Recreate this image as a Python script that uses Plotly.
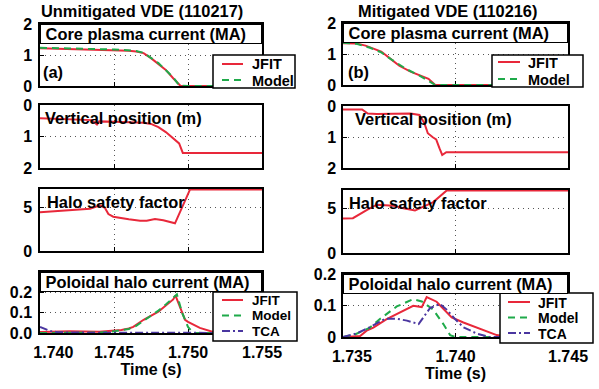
import plotly.graph_objects as go

W, H = 599, 389

# ---------------- data ----------------
# (a) Unmitigated VDE 110217
a_ip_jfit_t = [1.7400, 1.7420, 1.7440, 1.7450, 1.7460, 1.7465, 1.7470, 1.7475, 1.7480, 1.7485, 1.7490, 1.7495, 1.7500, 1.7550]
a_ip_jfit = [1.22, 1.20, 1.18, 1.17, 1.14, 1.11, 1.06, 0.90, 0.72, 0.52, 0.25, 0.0, 0.0, 0.0]
a_ip_model_t = [1.7400, 1.7450, 1.7465, 1.7470, 1.7480, 1.7490, 1.7494, 1.7500, 1.7550]
a_ip_model = [1.23, 1.18, 1.13, 1.07, 0.74, 0.28, 0.02, 0.0, 0.0]

a_z_t = [1.7400, 1.7420, 1.7435, 1.74385, 1.7440, 1.7450, 1.7470, 1.7475, 1.7480, 1.7485, 1.7490, 1.7494, 1.74965, 1.7500, 1.7550]
a_z = [0.42, 0.45, 0.48, 0.62, 0.52, 0.53, 0.56, 0.60, 0.70, 0.86, 1.05, 1.22, 1.52, 1.52, 1.52]

a_q_t = [1.74000, 1.74338, 1.74405, 1.74439, 1.74462, 1.74495, 1.74600, 1.74676, 1.74721, 1.74777, 1.74833, 1.74912, 1.75014, 1.7550]
a_q = [4.4, 4.8, 5.2, 4.9, 4.2, 3.9, 3.6, 3.45, 3.45, 3.65, 3.5, 3.15, 7.0, 7.0]

a_ih_jfit_t = [1.7400, 1.7420, 1.7440, 1.7450, 1.7455, 1.7460, 1.7463, 1.7470, 1.7475, 1.7480, 1.7485, 1.7490, 1.74915, 1.7495, 1.7498, 1.7500, 1.7508, 1.7517, 1.7525, 1.7550]
a_ih_jfit = [0.005, 0.008, 0.006, 0.010, 0.015, 0.022, 0.030, 0.065, 0.085, 0.105, 0.135, 0.165, 0.185, 0.12, 0.065, 0.055, 0.025, 0.005, 0.0, 0.0]
a_ih_model_t = [1.7400, 1.7440, 1.7450, 1.7460, 1.7465, 1.7470, 1.7480, 1.7485, 1.7490, 1.74925, 1.7496, 1.7500, 1.75035, 1.7550]
a_ih_model = [0.0, 0.002, 0.008, 0.02, 0.035, 0.06, 0.11, 0.14, 0.175, 0.19, 0.10, 0.03, 0.0, 0.0]
a_ih_tca_t = [1.7400, 1.7403, 1.7405, 1.7408, 1.7412, 1.7420, 1.7550]
a_ih_tca = [0.03, 0.02, 0.015, 0.008, 0.004, 0.002, 0.0]

# (b) Mitigated VDE 110216
b_ip_jfit_t = [1.7350, 1.7356, 1.7360, 1.7364, 1.7367, 1.7371, 1.7375, 1.7380, 1.7385, 1.7388, 1.7391, 1.7450]
b_ip_jfit = [1.35, 1.34, 1.27, 1.16, 1.08, 0.85, 0.62, 0.43, 0.28, 0.20, 0.0, 0.0]
b_ip_model_t = [1.7350, 1.7356, 1.7362, 1.7367, 1.7372, 1.7378, 1.7384, 1.7389, 1.7391, 1.7450]
b_ip_model = [1.36, 1.33, 1.20, 1.05, 0.80, 0.52, 0.30, 0.10, 0.0, 0.0]

b_z_t = [1.7350, 1.73585, 1.7361, 1.7365, 1.7380, 1.7384, 1.73862, 1.73877, 1.73899, 1.73914, 1.73929, 1.73941, 1.73959, 1.7450]
b_z = [0.11, 0.11, 0.24, 0.26, 0.24, 0.29, 0.56, 0.88, 1.01, 1.08, 1.37, 1.58, 1.49, 1.49]

b_q_t = [1.7350, 1.73544, 1.73605, 1.73650, 1.73724, 1.73768, 1.73820, 1.73864, 1.73901, 1.73961, 1.7450]
b_q = [3.85, 3.9, 4.8, 5.4, 5.3, 5.0, 4.75, 5.25, 5.7, 7.0, 7.0]

b_ih_jfit_t = [1.73509, 1.73576, 1.73605, 1.73635, 1.73694, 1.73753, 1.73812, 1.73850, 1.73872, 1.73916, 1.73983, 1.74035, 1.74109, 1.74183, 1.74242, 1.7450]
b_ih_jfit = [0.0, 0.003, 0.02, 0.03, 0.057, 0.077, 0.099, 0.095, 0.127, 0.112, 0.062, 0.046, 0.026, 0.006, 0.0, 0.0]
b_ih_model_t = [1.7350, 1.73553, 1.73620, 1.73664, 1.73739, 1.73812, 1.73850, 1.73901, 1.73946, 1.73976, 1.73998, 1.7450]
b_ih_model = [0.0, 0.008, 0.03, 0.057, 0.097, 0.12, 0.113, 0.087, 0.041, 0.006, 0.0, 0.0]
b_ih_tca_t = [1.7350, 1.73559, 1.73620, 1.73687, 1.73739, 1.73784, 1.73836, 1.73887, 1.73931, 1.73961, 1.73998, 1.74035, 1.74094, 1.7415, 1.7450]
b_ih_tca = [0.0, 0.011, 0.031, 0.058, 0.058, 0.052, 0.041, 0.092, 0.105, 0.087, 0.057, 0.031, 0.011, 0.0, 0.0]

col_titles = ["Unmitigated VDE (110217)", "Mitigated VDE (110216)"]
panel_titles = ["Core plasma current (MA)", "Vertical position (m)", "Halo safety factor", "Poloidal halo current (MA)"]
a_xticks = [1.740, 1.745, 1.750, 1.755]
b_xticks = [1.735, 1.740, 1.745]

# ---------------- styles ----------------
FONT = "Liberation Sans, Arial, Helvetica, sans-serif"
FS = 16.4
STY = {
    "JFIT": dict(color="#e8283a", width=2, dash="solid"),
    "Model": dict(color="#1faa4a", width=2, dash="7px,5px"),
    "TCA": dict(color="#4a36a0", width=2, dash="8px,3px,2px,3px"),
}

# pixel boxes (x0, x1, ytop, ybottom)
LX = (40, 262)
RX = (343, 568)
boxes = {
    1: (LX, 24, 86), 2: (LX, 105, 168), 3: (LX, 189, 251), 4: (LX, 272, 333),
    5: (RX, 23, 85), 6: (RX, 106, 168), 7: (RX, 190, 253), 8: (RX, 274, 337),
}

def sfx(i):
    return "" if i == 1 else str(i)

fig = go.Figure()

def add(i, t, v, name):
    s = STY[name]
    fig.add_trace(go.Scatter(x=t, y=v, mode="lines", name=name, showlegend=False,
                             xaxis="x" + sfx(i), yaxis="y" + sfx(i), line=s))

add(1, a_ip_jfit_t, a_ip_jfit, "JFIT")
add(1, a_ip_model_t, a_ip_model, "Model")
add(2, a_z_t, a_z, "JFIT")
add(3, a_q_t, a_q, "JFIT")
add(4, a_ih_jfit_t, a_ih_jfit, "JFIT")
add(4, a_ih_model_t, a_ih_model, "Model")
add(4, a_ih_tca_t, a_ih_tca, "TCA")
add(5, b_ip_jfit_t, b_ip_jfit, "JFIT")
add(5, b_ip_model_t, b_ip_model, "Model")
add(6, b_z_t, b_z, "JFIT")
add(7, b_q_t, b_q, "JFIT")
add(8, b_ih_jfit_t, b_ih_jfit, "JFIT")
add(8, b_ih_model_t, b_ih_model, "Model")
add(8, b_ih_tca_t, b_ih_tca, "TCA")

yspec = {
    1: dict(range=[0, 2], tickvals=[0, 1, 2], ticktext=["0", "1", "2"]),
    2: dict(range=[2, 0], tickvals=[0, 1, 2], ticktext=["0", "1", "2"]),
    3: dict(range=[0, 7.05], tickvals=[0, 5], ticktext=["0", "5"]),
    4: dict(range=[0, 0.3], tickvals=[0, 0.1, 0.2], ticktext=["0.0", "0.1", "0.2"]),
}
yspec_b = {
    5: yspec[1], 6: yspec[2], 7: yspec[3],
    8: dict(range=[0, 0.2], tickvals=[0, 0.1, 0.2], ticktext=["0", "0.1", "0.2"]),
}
yspec.update(yspec_b)

nb = "\u00a0"
layout = {}
for i, ((x0, x1), yt, yb) in boxes.items():
    left = i <= 4
    xr = [1.740, 1.755] if left else [1.735, 1.745]
    xt = a_xticks if left else b_xticks
    xtxt = [f"{v:.3f}" for v in xt]
    xtxt[0] = nb * (6 if left else 4) + xtxt[0]
    bottom = i in (4, 8)
    common = dict(showline=True, mirror=True, linecolor="black", linewidth=1.5,
                  ticks="inside", ticklen=4, tickcolor="black", zeroline=False,
                  showgrid=True, gridcolor="#555", gridwidth=1, griddash="1px,4px",
                  layer="below traces", fixedrange=True, automargin=False,
                  tickfont=dict(size=16))
    xa = dict(domain=[x0 / W, x1 / W], anchor="y" + sfx(i), range=xr, tickvals=xt,
              ticktext=xtxt, showticklabels=bottom, ticklabelstandoff=4, **common)
    if bottom:
        xa["title"] = dict(text="Time (s)", standoff=1, font=dict(size=16, family=FONT, weight="bold"))
    ya = dict(domain=[1 - yb / H, 1 - yt / H], anchor="x" + sfx(i), ticklabelstandoff=(3 if left else 2),
              **yspec[i], **common)
    layout["xaxis" + sfx(i)] = xa
    layout["yaxis" + sfx(i)] = ya

annotations = []
shapes = []

def P(px, py):
    return px / W, 1 - py / H

# column titles
for txt, cx in zip(col_titles, [142, 447]):
    x, y = P(cx, 11)
    annotations.append(dict(text=txt, x=x, y=y, xref="paper", yref="paper", showarrow=False,
                            xanchor="center", yanchor="middle", font=dict(size=FS)))

# panel titles
plain_shift = {2: 3, 3: 5, 6: 10, 7: 4}
for col, base in ((0, 0), (1, 4)):
    for k, txt in enumerate(panel_titles):
        i = base + k + 1
        (x0, x1), yt, yb = boxes[i]
        boxed = k in (0, 3)
        if boxed:
            annotations.append(dict(text=nb + txt, xref="x" + sfx(i) + " domain", yref="y" + sfx(i) + " domain",
                                    x=0, y=1,
                                    xanchor="left", yanchor="top", showarrow=False, align="left",
                                    width=(x1 - x0) - 2, height=18, borderpad=0, valign="middle",
                                    bgcolor="white", bordercolor="black", borderwidth=1,
                                    font=dict(size=FS)))
        else:
            annotations.append(dict(text=txt, xref="x" + sfx(i) + " domain", yref="y" + sfx(i) + " domain",
                                    x=0, y=1,
                                    xanchor="left", yanchor="top", showarrow=False, align="left",
                                    xshift=plain_shift[i], yshift=-2,
                                    font=dict(size=FS)))

# (a)/(b) labels
for txt, cx in (("(a)", 53), ("(b)", 358)):
    x, y = P(cx, 72)
    annotations.append(dict(text=txt, x=x, y=y, xref="paper", yref="paper", showarrow=False,
                            xanchor="center", yanchor="middle", font=dict(size=FS)))

# legend boxes
def legend(box, names, ys, lx0, lx1, tx, fs):
    bx0, by0, bx1, by1 = box
    a, b = P(bx0, by0)
    c, d = P(bx1, by1)
    shapes.append(dict(type="rect", xref="paper", yref="paper", x0=a, y0=b, x1=c, y1=d,
                       line=dict(color="black", width=1.5), fillcolor="white", layer="above"))
    for nm, yy in zip(names, ys):
        s = STY[nm]
        p0 = P(lx0, yy)
        p1 = P(lx1, yy)
        shapes.append(dict(type="line", xref="paper", yref="paper", x0=p0[0], y0=p0[1], x1=p1[0], y1=p1[1],
                           line=dict(color=s["color"], width=s["width"], dash=s["dash"]), layer="above"))
        tx_, ty_ = P(tx, yy)
        annotations.append(dict(text=nm, x=tx_, y=ty_, xref="paper", yref="paper", showarrow=False,
                                xanchor="left", yanchor="middle", height=13, borderpad=0,
                                font=dict(size=fs)))

legend((213, 55, 295, 88), ["JFIT", "Model"], [64, 80], 222, 243, 251, 14.5)
legend((492, 55, 583, 87), ["JFIT", "Model"], [62, 79], 498, 520, 527, 14.5)
legend((213, 292, 297, 341), ["JFIT", "Model", "TCA"], [300, 315.5, 331], 222, 243, 251, 13.5)
legend((500, 293, 593, 343), ["JFIT", "Model", "TCA"], [302, 317.5, 333], 508, 530, 537, 14)

fig.update_layout(
    width=W, height=H, autosize=False,
    margin=dict(l=0, r=0, t=0, b=0, pad=0, autoexpand=False),
    paper_bgcolor="white", plot_bgcolor="white",
    font=dict(family=FONT, size=15, color="black", weight="bold"),
    showlegend=False,
    annotations=annotations, shapes=shapes,
    **layout,
)

fig.write_html("out.html")
